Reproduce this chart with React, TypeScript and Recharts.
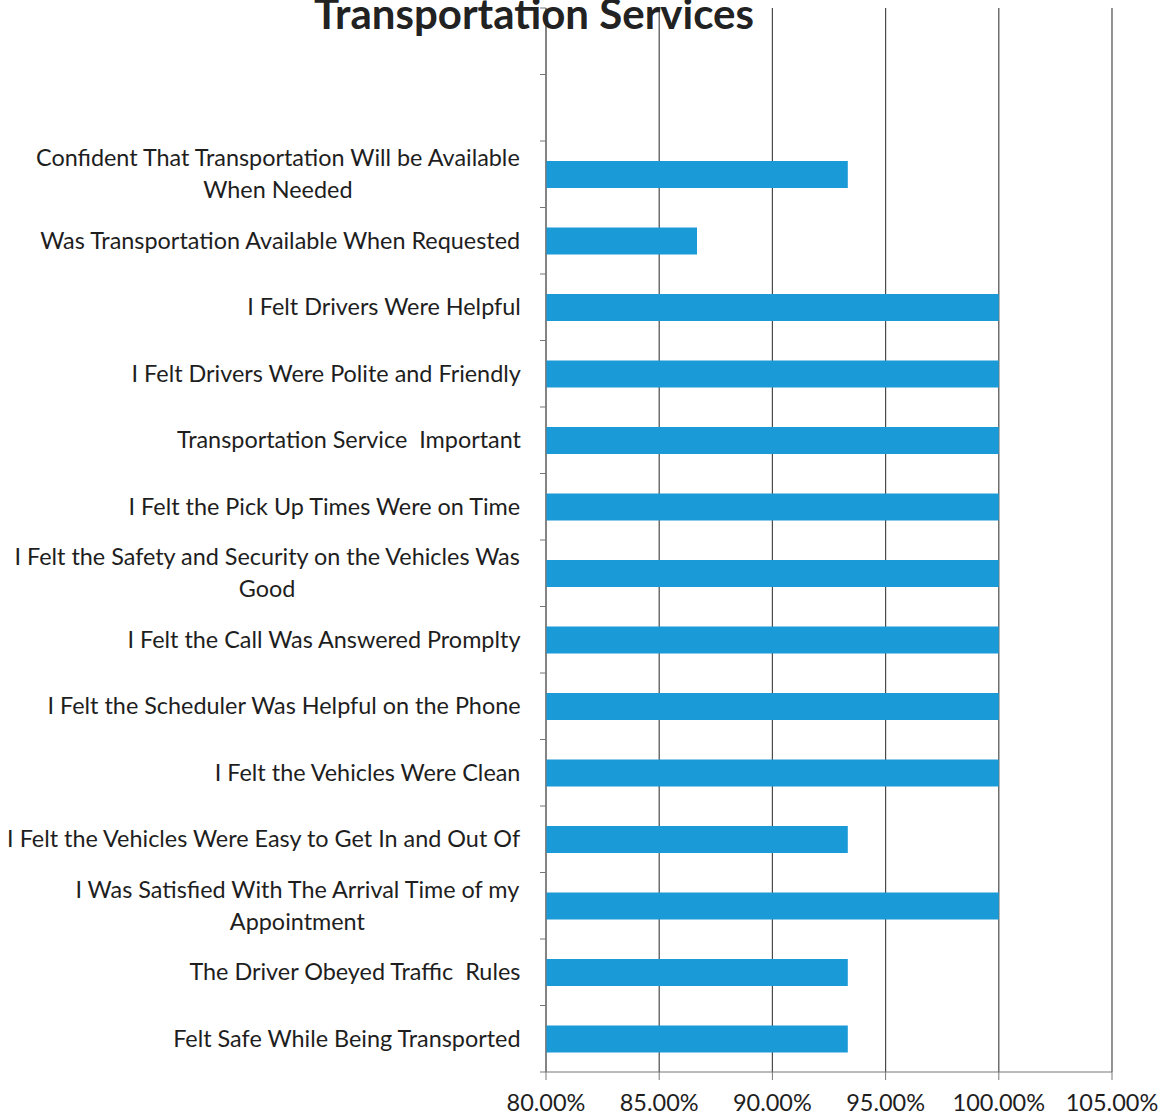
import { Bar, BarChart, CartesianGrid, XAxis, YAxis } from "recharts";

const categories = [
  "",
  " ",
  "Confident That Transportation Will be Available When Needed",
  "Was Transportation Available When Requested",
  "I Felt Drivers Were Helpful",
  "I Felt Drivers Were Polite and Friendly",
  "Transportation Service  Important",
  "I Felt the Pick Up Times Were on Time",
  "I Felt the Safety and Security on the Vehicles Was Good",
  "I Felt the Call Was Answered Promplty",
  "I Felt the Scheduler Was Helpful on the Phone",
  "I Felt the Vehicles Were Clean",
  "I Felt the Vehicles Were Easy to Get In and Out Of",
  "I Was Satisfied With The Arrival Time of my Appointment",
  "The Driver Obeyed Traffic  Rules",
  "Felt Safe While Being Transported",
];

const satisfied = [
  null, null, 0.9333, 0.8667, 1, 1, 1, 1, 1, 1, 1, 1, 0.9333, 1, 0.9333, 0.9333,
];

const xTicks = [0.8, 0.85, 0.9, 0.95, 1.0, 1.05];

const title = "Transportation Services";

const data = categories.map((name, i) => ({ name, value: satisfied[i] }));

const FONT = "Lato, 'Open Sans', sans-serif";
const LABEL_SIZE = 23.4;
const LINE_H = 32;
const TICK_GAP = 25;
const WRAP_W = 530;

const ctx =
  typeof document !== "undefined"
    ? document.createElement("canvas").getContext("2d")
    : null;

function textWidth(s: string) {
  if (!ctx) return s.length * LABEL_SIZE * 0.5;
  ctx.font = `${LABEL_SIZE}px Lato`;
  return ctx.measureText(s).width;
}

// split on single spaces only, so the double spaces of the source survive
function wrap(text: string) {
  const words = text.split(/ (?! )/);
  const lines: string[] = [];
  let cur = "";
  words.forEach((w) => {
    const next = cur ? cur + " " + w : w;
    if (cur && textWidth(next) > WRAP_W) {
      lines.push(cur);
      cur = w;
    } else {
      cur = next;
    }
  });
  if (cur) lines.push(cur);
  return lines;
}

function CategoryTick(props: any) {
  const { x, y, payload, index } = props;
  const half = payload.offset ?? 0;
  const axisX = x + TICK_GAP;
  const label = String(payload.value ?? "").trim();
  const lines = label ? wrap(label) : [];
  const blockW = lines.length ? Math.max(...lines.map(textWidth)) : 0;
  const cx = x - blockW / 2;
  return (
    <g>
      {index === 0 && (
        <line x1={axisX - 6} x2={axisX} y1={y - half} y2={y - half} stroke="#777" />
      )}
      <line x1={axisX - 6} x2={axisX} y1={y + half} y2={y + half} stroke="#777" />
      {lines.map((ln, i) => (
        <text
          key={i}
          x={cx}
          y={y + (i - (lines.length - 1) / 2) * LINE_H}
          dy="0.35em"
          textAnchor="middle"
          fontFamily={FONT}
          fontSize={LABEL_SIZE}
          fill="#1e1e1e"
          style={{ whiteSpace: "pre" }}
        >
          {ln}
        </text>
      ))}
    </g>
  );
}

export default function App() {
  return (
    <div
      style={{
        position: "absolute",
        left: 0,
        top: 0,
        width: 1164,
        height: 1120,
        background: "#fff",
        overflow: "hidden",
      }}
    >
      <BarChart
        width={1164}
        height={1120}
        data={data}
        layout="vertical"
        margin={{ top: 8, right: 52, bottom: 0, left: 0 }}
      >
        <CartesianGrid horizontal={false} stroke="#4a4a4a" strokeWidth={1.2} />
        <XAxis
          type="number"
          domain={[0.8, 1.05]}
          ticks={xTicks}
          allowDataOverflow
          height={48}
          tickSize={8}
          tickMargin={14}
          stroke="#777"
          tick={{ fill: "#1e1e1e", fontSize: 23.5, fontFamily: FONT }}
          tickFormatter={(v: number) => `${(v * 100).toFixed(2)}%`}
        />
        <YAxis
          type="category"
          dataKey="name"
          width={546}
          tickLine={false}
          tickSize={0}
          tickMargin={TICK_GAP}
          stroke="#777"
          interval={0}
          tick={<CategoryTick />}
        />
        <Bar dataKey="value" fill="#1a9ad6" barSize={27} isAnimationActive={false} />
      </BarChart>
      <div
        style={{
          position: "absolute",
          left: 0,
          width: 1068,
          top: -8,
          textAlign: "center",
          fontFamily: FONT,
          fontWeight: 700,
          fontSize: 42,
          lineHeight: "42px",
          color: "#222",
          whiteSpace: "nowrap",
        }}
      >
        {title}
      </div>
    </div>
  );
}
